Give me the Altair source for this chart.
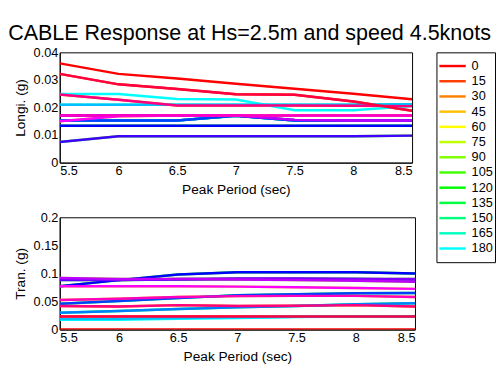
import colorsys
import altair as alt
import pandas as pd

# ---------------- data ----------------
periods = [5.5, 6.0, 6.5, 7.0, 7.5, 8.0, 8.5]
headings = list(range(0, 360, 15))
legend_headings = list(range(0, 181, 15))

# Longitudinal acceleration (g) per heading (visible series)
longi_0 = [0.0360, 0.0322, 0.0305, 0.0286, 0.0268, 0.0250, 0.0230]
longi_180 = [0.0249, 0.0249, 0.0231, 0.0229, 0.0190, 0.0190, 0.0205]
longi_195 = [0.0210, 0.0210, 0.0210, 0.0210, 0.0210, 0.0210, 0.0212]
longi_210 = [0.0153, 0.0153, 0.0153, 0.0170, 0.0153, 0.0153, 0.0153]
longi_225 = [0.0153, 0.0153, 0.0153, 0.0170, 0.0153, 0.0153, 0.0153]
longi_240 = [0.0134, 0.0134, 0.0134, 0.0134, 0.0134, 0.0134, 0.0134]
longi_255 = [0.0075, 0.0096, 0.0096, 0.0096, 0.0096, 0.0096, 0.0098]
longi_270 = [0.0171, 0.0171, 0.0171, 0.0171, 0.0155, 0.0153, 0.0153]
longi_285 = [0.0171, 0.0171, 0.0171, 0.0171, 0.0155, 0.0153, 0.0153]
longi_300 = [0.0150, 0.0168, 0.0171, 0.0171, 0.0171, 0.0171, 0.0171]
longi_315 = [0.0171, 0.0171, 0.0171, 0.0171, 0.0171, 0.0171, 0.0171]
longi_330 = [0.0247, 0.0228, 0.0207, 0.0207, 0.0207, 0.0206, 0.0205]
longi_345 = [0.0322, 0.0284, 0.0267, 0.0248, 0.0246, 0.0222, 0.0188]

# Transverse acceleration (g) per heading (visible series)
tran_0 = [0.0, 0.0, 0.0, 0.0, 0.0, 0.0, 0.0]
tran_180 = [0.0175, 0.0172, 0.0190, 0.0205, 0.0222, 0.0230, 0.0230]
tran_195 = [0.0185, 0.0190, 0.0205, 0.0218, 0.0228, 0.0232, 0.0233]
tran_210 = [0.0300, 0.0330, 0.0365, 0.0395, 0.0420, 0.0450, 0.0470]
tran_225 = [0.0460, 0.0510, 0.0560, 0.0610, 0.0630, 0.0645, 0.0650]
tran_240 = [0.0770, 0.0880, 0.0980, 0.1020, 0.1020, 0.1020, 0.1000]
tran_255 = [0.0880, 0.0880, 0.0890, 0.0900, 0.0900, 0.0900, 0.0890]
tran_270 = [0.0900, 0.0880, 0.0900, 0.0910, 0.0910, 0.0900, 0.0900]
tran_285 = [0.0920, 0.0900, 0.0900, 0.0890, 0.0880, 0.0870, 0.0850]
tran_300 = [0.0770, 0.0770, 0.0770, 0.0765, 0.0755, 0.0740, 0.0725]
tran_315 = [0.0525, 0.0550, 0.0580, 0.0595, 0.0600, 0.0600, 0.0580]
tran_330 = [0.0420, 0.0410, 0.0435, 0.0420, 0.0425, 0.0435, 0.0410]
tran_345 = [0.0233, 0.0233, 0.0233, 0.0233, 0.0233, 0.0233, 0.0233]

longi_visible = {0: longi_0, 180: longi_180, 195: longi_195, 210: longi_210,
                 225: longi_225, 240: longi_240, 255: longi_255, 270: longi_270,
                 285: longi_285, 300: longi_300, 315: longi_315, 330: longi_330,
                 345: longi_345}
tran_visible = {0: tran_0, 180: tran_180, 195: tran_195, 210: tran_210,
                225: tran_225, 240: tran_240, 255: tran_255, 270: tran_270,
                285: tran_285, 300: tran_300, 315: tran_315, 330: tran_330,
                345: tran_345}


def series_for(table, h):
    # headings 15..165 lie exactly underneath their mirror heading 360-h
    return table[h] if h in table else table[360 - h]


rows_l, rows_t = [], []
for h in headings:
    for p, v in zip(periods, series_for(longi_visible, h)):
        rows_l.append({"heading": h, "period": p, "value": v})
    for p, v in zip(periods, series_for(tran_visible, h)):
        rows_t.append({"heading": h, "period": p, "value": v})
df_l = pd.DataFrame(rows_l)
df_t = pd.DataFrame(rows_t)
df_leg = pd.DataFrame({"heading": legend_headings,
                       "label": [str(h) for h in legend_headings]})


def hsv_hex(h):
    r, g, b = colorsys.hsv_to_rgb(h / 360.0, 1.0, 1.0)
    return "#%02x%02x%02x" % (int(round(r * 255)), int(round(g * 255)), int(round(b * 255)))


colors = [hsv_hex(h) for h in headings]
color_scale = alt.Scale(domain=headings, range=colors)

FONT = "Liberation Sans"


def panel(df, ytitle, ymax, ystep, w, h):
    return alt.Chart(df).mark_line(strokeWidth=2.5, clip=True).encode(
        x=alt.X("period:Q", title="Peak Period (sec)",
                scale=alt.Scale(domain=[5.5, 8.5], nice=False),
                axis=alt.Axis(values=periods, format="~g")),
        y=alt.Y("value:Q", title=ytitle,
                scale=alt.Scale(domain=[0, ymax], nice=False),
                axis=alt.Axis(tickCount=int(round(ymax / ystep)), format="~g",
                              titlePadding=6)),
        color=alt.Color("heading:O", scale=color_scale, legend=None),
        order=alt.Order("period:Q"),
    ).properties(width=w, height=h)


top = panel(df_l, "Longi. (g)", 0.04, 0.01, 361, 113)
bottom = panel(df_t, "Tran. (g)", 0.2, 0.05, 364, 115)

# hand-built legend box (first 13 headings, as in the reference)
leg_base = alt.Chart(df_leg).encode(
    y=alt.Y("heading:O", axis=None,
            scale=alt.Scale(type="point", domain=legend_headings, padding=0.9))
)
leg_lines = leg_base.mark_rule(strokeWidth=2.5).encode(
    x=alt.value(3), x2=alt.value(30),
    color=alt.Color("heading:O", scale=color_scale, legend=None),
)
leg_text = leg_base.mark_text(align="left", baseline="middle", font=FONT,
                              fontSize=13, color="black").encode(
    x=alt.value(36), text="label:N"
)
legend_box = (leg_lines + leg_text).properties(
    width=60, height=215,
    title=alt.TitleParams(" ", fontSize=8, offset=2),
)

chart = alt.hconcat(
    alt.vconcat(top, bottom, spacing=13), legend_box, spacing=20
).properties(
    title=alt.TitleParams(
        "CABLE Response at Hs=2.5m and speed 4.5knots",
        fontSize=22, font=FONT, fontWeight="normal", color="black",
        anchor="start", dx=-5, offset=-3,
    ),
    padding={"left": 0, "top": 10, "right": 0, "bottom": 0},
).configure_view(
    stroke="black", strokeWidth=1
).configure_axis(
    labelFont=FONT, labelFontSize=13, labelColor="black",
    titleFont=FONT, titleFontSize=14, titleFontWeight="normal", titleColor="black",
    domainColor="black", tickColor="black", tickSize=0, labelPadding=2,
    titlePadding=6, grid=False,
)

chart.save("out.html", embed_options={"renderer": "svg", "actions": False})
